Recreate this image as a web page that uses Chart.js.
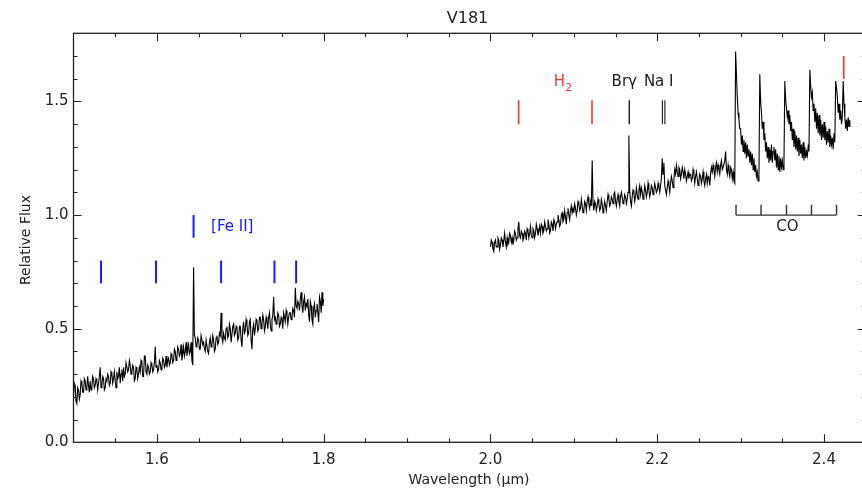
<!DOCTYPE html>
<html>
<head>
<meta charset="utf-8">
<title>V181</title>
<script src="https://cdn.jsdelivr.net/npm/chart.js@4.4.1/dist/chart.umd.min.js"></script>
<style>
  html, body { margin: 0; padding: 0; background: #fff; overflow: hidden; }
  #wrap { width: 870px; height: 492px; }
</style>
</head>
<body>
<div id="wrap"><canvas id="c" width="870" height="492"></canvas></div>
<script>
// H-band segment: relative flux sampled every 0.001 micron from 1.500
const hStart = 1.500;
const hStep = 0.001;
const hFlux = [
  0.20,0.26,0.25,0.18,0.17,0.24,0.23,0.19,0.21,0.27,0.26,0.22,0.22,0.28,0.27,0.23,0.24,0.29,0.25,0.22,
  0.27,0.23,0.24,0.29,0.28,0.24,0.25,0.28,0.27,0.23,0.26,0.29,0.33,0.24,0.25,0.29,0.28,0.23,0.24,0.28,
  0.27,0.30,0.29,0.25,0.26,0.31,0.30,0.26,0.28,0.31,0.27,0.24,0.31,0.28,0.29,0.33,0.26,0.30,0.32,0.27,
  0.33,0.29,0.30,0.35,0.35,0.31,0.32,0.36,0.34,0.30,0.31,0.34,0.33,0.27,0.28,0.33,0.32,0.28,0.30,0.33,
  0.31,0.36,0.35,0.29,0.29,0.38,0.38,0.31,0.30,0.34,0.33,0.30,0.31,0.35,0.34,0.31,0.32,0.35,0.42,0.33,
  0.34,0.31,0.32,0.36,0.35,0.32,0.33,0.37,0.36,0.33,0.34,0.38,0.33,0.36,0.37,0.34,0.35,0.39,0.38,0.35,
  0.36,0.41,0.40,0.36,0.37,0.42,0.41,0.38,0.39,0.43,0.36,0.39,0.42,0.38,0.40,0.44,0.38,0.41,0.43,0.39,
  0.40,0.44,0.36,0.34,0.77,0.47,0.46,0.42,0.43,0.46,0.45,0.41,0.41,0.47,0.47,0.43,0.44,0.41,0.40,0.45,
  0.45,0.40,0.39,0.44,0.46,0.42,0.43,0.47,0.45,0.40,0.41,0.46,0.47,0.43,0.44,0.48,0.47,0.57,0.46,0.44,
  0.48,0.46,0.45,0.50,0.51,0.46,0.47,0.52,0.50,0.44,0.44,0.51,0.52,0.47,0.48,0.51,0.50,0.45,0.46,0.51,
  0.51,0.45,0.42,0.50,0.53,0.48,0.49,0.54,0.52,0.47,0.48,0.53,0.54,0.45,0.41,0.50,0.52,0.47,0.50,0.54,
  0.53,0.49,0.50,0.55,0.55,0.50,0.52,0.56,0.54,0.49,0.51,0.55,0.53,0.50,0.55,0.57,0.52,0.49,0.54,0.56,
  0.64,0.54,0.55,0.52,0.53,0.57,0.56,0.51,0.52,0.55,0.54,0.50,0.57,0.55,0.53,0.58,0.56,0.52,0.55,0.57,
  0.57,0.54,0.55,0.59,0.58,0.55,0.68,0.60,0.59,0.62,0.61,0.58,0.63,0.66,0.60,0.57,0.62,0.64,0.58,0.61,
  0.60,0.63,0.56,0.53,0.62,0.60,0.54,0.52,0.59,0.61,0.55,0.58,0.61,0.57,0.53,0.64,0.62,0.57,0.66,0.60,
  0.63
];

// K-band segment: relative flux sampled every 0.001 micron from 2.000
const kStart = 2.000;
const kStep = 0.001;
const kFlux = [
  0.86,0.89,0.88,0.85,0.84,0.88,0.89,0.86,0.86,0.90,0.89,0.85,0.87,0.90,0.89,0.86,0.89,0.92,0.88,0.86,
  0.90,0.87,0.88,0.92,0.91,0.88,0.90,0.87,0.89,0.93,0.92,0.89,0.90,0.94,0.97,0.91,0.90,0.93,0.92,0.89,
  0.90,0.93,0.92,0.89,0.94,0.93,0.90,0.92,0.95,0.91,0.90,0.94,0.93,0.90,0.92,0.96,0.94,0.91,0.93,0.95,
  0.92,0.96,0.95,0.92,0.93,0.97,0.95,0.93,0.94,0.98,0.96,0.92,0.93,0.97,0.96,0.93,0.98,0.97,0.94,0.96,
  0.97,1.00,0.98,0.95,0.96,1.00,1.01,0.97,0.98,1.02,0.99,0.96,1.01,1.03,1.00,0.98,1.02,1.04,1.01,1.03,
  1.01,1.05,1.03,1.00,1.02,1.06,1.05,1.02,1.03,1.07,1.04,1.01,1.02,1.06,1.05,1.02,1.06,1.08,1.05,1.03,
  1.06,1.04,1.24,1.05,1.02,1.06,1.05,1.02,1.04,1.07,1.05,1.02,1.03,1.07,1.05,1.01,1.03,1.06,1.04,1.02,
  1.06,1.09,1.07,1.04,1.05,1.08,1.07,1.05,1.09,1.10,1.06,1.04,1.07,1.09,1.06,1.04,1.08,1.10,1.08,1.05,
  1.06,1.09,1.08,1.05,1.07,1.10,1.35,1.11,1.06,1.04,1.08,1.11,1.10,1.06,1.08,1.12,1.09,1.07,1.11,1.13,
  1.09,1.12,1.10,1.07,1.09,1.13,1.11,1.08,1.10,1.14,1.11,1.08,1.10,1.13,1.12,1.09,1.11,1.14,1.12,1.10,
  1.11,1.14,1.12,1.10,1.13,1.16,1.25,1.18,1.23,1.13,1.11,1.09,1.12,1.15,1.13,1.10,1.14,1.17,1.15,1.12,
  1.16,1.20,1.18,1.22,1.19,1.17,1.21,1.20,1.16,1.18,1.21,1.19,1.16,1.20,1.18,1.15,1.17,1.19,1.16,1.18,
  1.18,1.15,1.16,1.20,1.18,1.14,1.17,1.19,1.16,1.13,1.15,1.18,1.17,1.14,1.16,1.19,1.15,1.13,1.16,1.18,
  1.14,1.17,1.16,1.13,1.18,1.21,1.19,1.22,1.20,1.17,1.21,1.23,1.19,1.22,1.20,1.18,1.22,1.24,1.20,1.21,
  1.21,1.24,1.28,1.20,1.18,1.22,1.19,1.17,1.21,1.20,1.16,1.19,1.15,1.14,1.72,1.62,1.52,1.45,1.42,1.38,
  1.38,1.31,1.35,1.28,1.33,1.27,1.32,1.25,1.31,1.26,1.29,1.23,1.28,1.22,1.27,1.20,1.25,1.19,1.22,1.17,
  1.19,1.15,1.17,1.62,1.50,1.45,1.38,1.41,1.33,1.36,1.28,1.32,1.25,1.30,1.23,1.29,1.24,1.31,1.23,1.28,
  1.30,1.24,1.29,1.21,1.27,1.20,1.26,1.19,1.25,1.21,1.24,1.20,1.23,1.59,1.51,1.47,1.43,1.46,1.40,1.44,
  1.37,1.41,1.33,1.38,1.30,1.37,1.29,1.35,1.28,1.34,1.26,1.33,1.27,1.31,1.25,1.32,1.24,1.30,1.25,1.28,
  1.26,1.30,1.28,1.64,1.57,1.52,1.54,1.46,1.49,1.41,1.47,1.38,1.45,1.36,1.44,1.35,1.42,1.33,1.40,1.34,
  1.41,1.33,1.39,1.31,1.37,1.32,1.38,1.30,1.35,1.31,1.34,1.29,1.36,1.32,1.59,1.56,1.52,1.45,1.49,1.42,
  1.46,1.40,1.44,1.59,1.49,1.43,1.38,1.42,1.37,1.43,1.39,1.42
];

// Axis tick labels
const xTicks = [1.6, 1.8, 2.0, 2.2, 2.4];
const yTicks = [0.0, 0.5, 1.0, 1.5];

// Line identifications (microns)
const feIILines = [1.533, 1.599, 1.677, 1.741, 1.767];
const feIIStrongLine = 1.644;
const h2Lines = [2.0338, 2.1218];
const h2QLine = 2.4237;
const brGammaLine = 2.1665;
const naILines = [2.2062, 2.2092];
const coBandheads = [2.2945, 2.3245, 2.3550, 2.3850, 2.4150];

const BLUE = '#1a1aff';
const RED = '#ff3030';
const INK = '#1a1a1a';
const FONT = "'DejaVu Sans', sans-serif";

function spectrum(start, step, flux) {
  return {
    data: flux.map((v, i) => ({ x: +(start + i * step).toFixed(4), y: v })),
    showLine: true, borderColor: '#000', borderWidth: 1.1, pointRadius: 0, tension: 0, order: 2
  };
}

function segment(x0, y0, x1, y1, color, width) {
  return {
    data: [{ x: x0, y: y0 }, { x: x1, y: y1 }],
    showLine: true, borderColor: color, borderWidth: width, pointRadius: 0, order: 1
  };
}

const datasets = [spectrum(hStart, hStep, hFlux), spectrum(kStart, kStep, kFlux)];
feIILines.forEach(l => datasets.push(segment(l, 0.70, l, 0.80, BLUE, 2)));
datasets.push(segment(feIIStrongLine, 0.90, feIIStrongLine, 1.00, BLUE, 2));
h2Lines.forEach(l => datasets.push(segment(l, 1.40, l, 1.505, RED, 1.6)));
datasets.push(segment(h2QLine, 1.60, h2QLine, 1.70, RED, 1.6));
datasets.push(segment(brGammaLine, 1.40, brGammaLine, 1.505, INK, 1.4));
naILines.forEach(l => datasets.push(segment(l, 1.40, l, 1.505, INK, 1.1)));
datasets.push(segment(coBandheads[0], 1.0, coBandheads[coBandheads.length - 1], 1.0, '#333', 1.4));
coBandheads.forEach(l => datasets.push(segment(l, 1.0, l, 1.045, '#333', 1.4)));

// Text labels placed in data coordinates
const annotations = [
  { text: '[Fe II]', x: 1.6904, y: 0.945, color: BLUE, align: 'center' },
  { text: 'H', x: 2.0760, y: 1.583, color: RED, align: 'left', sub: '2' },
  { text: 'Br\u03b3', x: 2.1453, y: 1.584, color: INK, align: 'left' },
  { text: 'Na I', x: 2.1840, y: 1.584, color: INK, align: 'left' },
  { text: 'CO', x: 2.3561, y: 0.947, color: INK, align: 'center' }
];

// Box frame with inward ticks on all four sides, plus titles and labels
const decorations = {
  id: 'decorations',
  afterDraw(chart) {
    const { ctx, chartArea: a, scales: { x, y } } = chart;
    ctx.save();
    ctx.strokeStyle = '#222';
    ctx.lineWidth = 1.3;
    ctx.strokeRect(a.left, a.top, a.right - a.left, a.bottom - a.top);

    ctx.lineWidth = 1.1;
    ctx.beginPath();
    for (let k = 31; k <= 48; k++) {
      const v = k * 0.05;
      const major = xTicks.some(t => Math.abs(t - v) < 1e-6);
      const len = major ? 8 : 4;
      const px = Math.round(x.getPixelForValue(v)) + 0.5;
      ctx.moveTo(px, a.bottom); ctx.lineTo(px, a.bottom - len);
      ctx.moveTo(px, a.top); ctx.lineTo(px, a.top + len);
    }
    for (let k = 1; k <= 17; k++) {
      const v = k * 0.1;
      const major = yTicks.some(t => Math.abs(t - v) < 1e-6);
      const len = major ? 8 : 4;
      const py = Math.round(y.getPixelForValue(v)) + 0.5;
      ctx.moveTo(a.left, py); ctx.lineTo(a.left + len, py);
      ctx.moveTo(a.right, py); ctx.lineTo(a.right - len, py);
    }
    ctx.stroke();

    // line identification labels
    ctx.textBaseline = 'middle';
    annotations.forEach(an => {
      ctx.font = `15px ${FONT}`;
      ctx.fillStyle = an.color;
      ctx.textAlign = an.align;
      const px = x.getPixelForValue(an.x);
      const py = y.getPixelForValue(an.y);
      ctx.fillText(an.text, px, py);
      if (an.sub) {
        const w = ctx.measureText(an.text).width;
        ctx.font = `10px ${FONT}`;
        ctx.textAlign = 'left';
        ctx.fillText(an.sub, px + w + 0.5, py + 6);
      }
    });

    // titles
    ctx.fillStyle = '#222';
    ctx.textAlign = 'center';
    ctx.font = `16px ${FONT}`;
    ctx.fillText('V181', 467.5, 19);
    ctx.font = `14px ${FONT}`;
    ctx.fillText('Wavelength (\u03bcm)', 469, 480);
    ctx.translate(26, 240);
    ctx.rotate(-Math.PI / 2);
    ctx.fillText('Relative Flux', 0, 0);
    ctx.restore();
  }
};

new Chart(document.getElementById('c'), {
  type: 'scatter',
  data: { datasets },
  options: {
    responsive: false,
    animation: false,
    devicePixelRatio: 1,
    layout: { padding: { left: 0, right: 4.3, top: 33.3, bottom: 0 } },
    plugins: { legend: { display: false }, tooltip: { enabled: false }, title: { display: false } },
    scales: {
      x: {
        type: 'linear', min: 1.5, max: 2.45,
        grid: { display: false, drawTicks: false },
        border: { display: false },
        afterBuildTicks: s => { s.ticks = xTicks.map(v => ({ value: v })); },
        afterFit: s => { s.height = 49.7; },
        ticks: {
          padding: 9, color: '#222', maxRotation: 0, autoSkip: false,
          font: { family: FONT, size: 15 },
          callback: v => Number(v).toFixed(1)
        }
      },
      y: {
        type: 'linear', min: 0, max: 1.8,
        grid: { display: false, drawTicks: false },
        border: { display: false },
        afterBuildTicks: s => { s.ticks = yTicks.map(v => ({ value: v })); },
        afterFit: s => { s.width = 73.5; },
        ticks: {
          padding: 5, color: '#222', autoSkip: false,
          font: { family: FONT, size: 15 },
          callback: v => Number(v).toFixed(1)
        }
      }
    }
  },
  plugins: [decorations]
});
</script>
</body>
</html>
